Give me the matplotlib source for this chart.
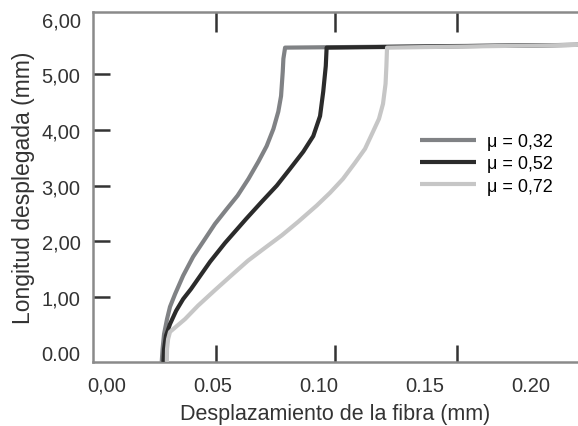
import matplotlib
matplotlib.use('Agg')
import matplotlib.pyplot as plt

plt.rcParams['font.family'] = ['Liberation Sans', 'DejaVu Sans']

# curves: fibre displacement (mm) vs unfolded length (mm)
x_032 = [0.0258, 0.0262, 0.0269, 0.0283, 0.0297, 0.0321, 0.0359, 0.0406, 0.0462,
         0.0509, 0.0565, 0.0616, 0.0667, 0.0714, 0.0753, 0.0785, 0.0808, 0.0821,
         0.0829, 0.0832, 0.0840, 0.2230]
y_032 = [-0.17, 0.06, 0.33, 0.60, 0.82, 1.05, 1.38, 1.72, 2.04,
         2.31, 2.58, 2.82, 3.12, 3.43, 3.71, 4.02, 4.33, 4.61,
         5.05, 5.28, 5.48, 5.53]

x_052 = [0.0266, 0.0269, 0.0278, 0.0297, 0.0326, 0.0359, 0.0396, 0.0429, 0.0486,
         0.0557, 0.0656, 0.0730, 0.0801, 0.0863, 0.0926, 0.0973, 0.1005, 0.1020,
         0.1032, 0.1036, 0.2230]
y_052 = [-0.17, 0.06, 0.30, 0.51, 0.75, 0.96, 1.14, 1.32, 1.63,
         1.97, 2.40, 2.71, 3.00, 3.30, 3.61, 3.89, 4.25, 4.69,
         5.15, 5.48, 5.53]

x_072 = [0.0282, 0.0283, 0.0288, 0.0297, 0.0368, 0.0429, 0.0509, 0.0588, 0.0665,
         0.0745, 0.0826, 0.0902, 0.0989, 0.1052, 0.1113, 0.1170, 0.1217, 0.1255,
         0.1283, 0.1302, 0.1314, 0.1318, 0.1321, 0.2230]
y_072 = [-0.17, 0.06, 0.24, 0.37, 0.60, 0.84, 1.12, 1.39, 1.65,
         1.88, 2.11, 2.35, 2.64, 2.87, 3.12, 3.41, 3.66, 3.97,
         4.20, 4.47, 4.83, 5.15, 5.48, 5.53]

labels = ['\u03bc = 0,32', '\u03bc = 0,52', '\u03bc = 0,72']
colors = ['#808285', '#2b2b2b', '#c6c6c6']

x_ticks = [0.0, 0.05, 0.10, 0.15, 0.20]
x_ticklabels = ['0,00', '0.05', '0.10', '0.15', '0.20']
x_marks = [0.0514, 0.1075, 0.1651]   # the tick marks don't sit under the labels
y_ticks = [0, 1, 2, 3, 4, 5, 6]
y_ticklabels = ['0.00', '1,00', '2,00', '3,00', '4,00', '5,00', '6,00']

fig = plt.figure(figsize=(5.78, 4.27), dpi=100)
ax = fig.add_axes([0.161, 0.150, 0.839, 0.820])

series = [(x_032, y_032), (x_052, y_052), (x_072, y_072)]
for i, (xs, ys) in enumerate(series):
    ax.plot(xs, ys, color=colors[i], lw=3.0, label=labels[i],
            solid_joinstyle='round', solid_capstyle='butt', zorder=2 + i)

ax.set_xlim(-0.0066, 0.2222)
ax.set_ylim(-0.171, 6.124)

ax.set_xticks(x_ticks, x_ticklabels)
ax.set_xticks(x_marks, minor=True)
ax.set_yticks(y_ticks, y_ticklabels)

ax.tick_params(axis='x', which='major', length=0, pad=10, labelsize=14.5, colors='#333333')
ax.tick_params(axis='x', which='minor', direction='in', length=12, width=1.8,
               color='#333333', top=True, bottom=True)
for t in ax.xaxis.get_minor_ticks():
    t.tick2line.set_markersize(14.5)   # top marks are a bit longer
ax.tick_params(axis='y', which='major', direction='in', length=12, width=1.8,
               pad=9, labelsize=14.5, color='#333333', labelcolor='#333333')
# no marks at 0 and 6 on the y axis
for t in ax.yaxis.get_major_ticks():
    if t.get_loc() in (0, 6):
        t.tick1line.set_visible(False)

for side in ['left', 'bottom', 'top']:
    ax.spines[side].set_color('#8a8a8a')
    ax.spines[side].set_linewidth(1.8)
ax.spines['right'].set_visible(False)

ax.set_xlabel('Desplazamiento de la fibra (mm)', fontsize=15.5, color='#333333', labelpad=6)
ax.set_ylabel('Longitud desplegada (mm)', fontsize=16.5, color='#333333', labelpad=5)

ax.legend(loc='upper left', bbox_to_anchor=(0.66, 0.675), frameon=False,
          fontsize=13, handlelength=3.1, handletextpad=0.6, labelspacing=0.3,
          borderaxespad=0)

fig.savefig('out.png', dpi=100)
